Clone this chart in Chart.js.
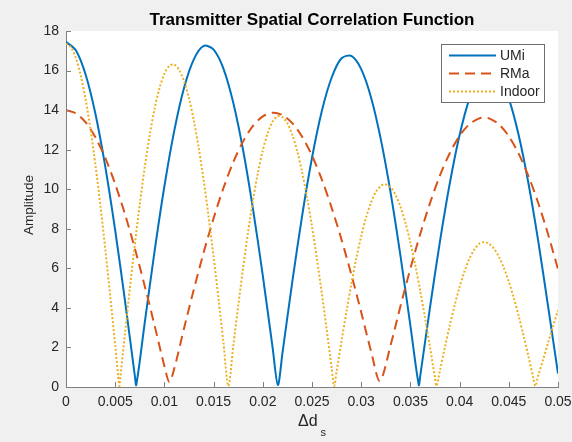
<!DOCTYPE html>
<html>
<head>
<meta charset="utf-8">
<title>Transmitter Spatial Correlation Function</title>
<script src="https://cdn.jsdelivr.net/npm/chart.js@4.4.1/dist/chart.umd.min.js"></script>
<style>
  html, body { margin: 0; padding: 0; background: #f0f0f0; }
  canvas { display: block; }
</style>
</head>
<body>
<canvas id="corrCanvas" width="572" height="442"></canvas>
<script>
// values
const xTickValues = [0, 0.005, 0.01, 0.015, 0.02, 0.025, 0.03, 0.035, 0.04, 0.045, 0.05];
const yTickValues = [0, 2, 4, 6, 8, 10, 12, 14, 16, 18];

const umiX = [0, 0.001, 0.002, 0.003, 0.004, 0.005, 0.006, 0.007, 0.00714,
  0.008, 0.009, 0.01, 0.011, 0.012, 0.013, 0.014,
  0.015, 0.016, 0.017, 0.018, 0.019, 0.02, 0.021, 0.02153,
  0.022, 0.023, 0.024, 0.025, 0.026, 0.027, 0.028,
  0.029, 0.03, 0.031, 0.032, 0.033, 0.034, 0.035, 0.03585,
  0.036, 0.037, 0.038, 0.039, 0.04, 0.041, 0.042, 0.043, 0.044, 0.045, 0.046, 0.047, 0.048, 0.049, 0.05];
const umiY = [17.45, 17.03, 15.79, 13.79, 11.12, 7.92, 4.34, 0.55, 0.1,
  3.24, 6.86, 10.15, 12.95, 15.13, 16.58, 17.25,
  17.06, 16.10, 14.37, 11.97, 9.01, 5.63, 1.98, 0.1,
  1.73, 5.33, 8.67, 11.59, 13.96, 15.65, 16.62,
  16.74, 16.07, 14.64, 12.51, 9.79, 6.60, 3.10, 0.1,
  0.56, 4.05, 7.35, 10.29, 12.74, 14.58, 15.71, 16.1, 15.71, 14.58, 12.74, 10.29, 7.35, 4.05, 0.68];

const rmaX = [0, 0.001, 0.002, 0.003, 0.004, 0.005, 0.006, 0.007, 0.008, 0.009, 0.01, 0.0105,
  0.011, 0.012, 0.013, 0.014, 0.015, 0.016, 0.017, 0.018, 0.019, 0.02, 0.021,
  0.022, 0.023, 0.024, 0.025, 0.026, 0.027, 0.028, 0.029, 0.03, 0.031, 0.0319,
  0.033, 0.034, 0.035, 0.036, 0.037, 0.038, 0.039, 0.04, 0.041, 0.042, 0.0425,
  0.043, 0.044, 0.045, 0.046, 0.047, 0.048, 0.049, 0.05];
const rmaY = [14.0, 13.84, 13.38, 12.61, 11.57, 10.26, 8.73, 7.0, 5.11, 3.12, 1.05, 0.25,
  0.93, 2.97, 4.95, 6.82, 8.53, 10.06, 11.37, 12.42, 13.20, 13.68, 13.87,
  13.75, 13.34, 12.65, 11.70, 10.49, 9.06, 7.45, 5.68, 3.78, 1.81, 0.3,
  2.14, 4.11, 5.99, 7.74, 9.31, 10.69, 11.82, 12.70, 13.29, 13.58, 13.62,
  13.58, 13.28, 12.68, 11.80, 10.66, 9.29, 7.71, 5.95];

const indoorX = [0, 0.0005, 0.001, 0.0015, 0.002, 0.0025, 0.003, 0.0035, 0.004, 0.0045, 0.005, 0.00542,
  0.0055, 0.006, 0.0065, 0.007, 0.0075, 0.008, 0.0085, 0.009, 0.0095, 0.01, 0.0105,
  0.011, 0.0115, 0.012, 0.0125, 0.013, 0.0135, 0.014, 0.0145, 0.015, 0.0155, 0.016, 0.0165,
  0.017, 0.0175, 0.018, 0.0185, 0.019, 0.0195, 0.02, 0.0205, 0.021, 0.0215,
  0.022, 0.0225, 0.023, 0.0235, 0.024, 0.0245, 0.025, 0.0255, 0.026, 0.0265, 0.027, 0.02725,
  0.0275, 0.028, 0.0285, 0.029, 0.0295, 0.03, 0.0305, 0.031, 0.0315, 0.032, 0.0324,
  0.033, 0.0335, 0.034, 0.0345, 0.035, 0.0355, 0.036, 0.0365, 0.037, 0.0375, 0.03765,
  0.038, 0.0385, 0.039, 0.0395, 0.04, 0.0405, 0.041, 0.0415, 0.042, 0.04249,
  0.043, 0.0435, 0.044, 0.0445, 0.045, 0.0455, 0.046, 0.0465, 0.047, 0.0475, 0.0477,
  0.048, 0.0485, 0.049, 0.0495, 0.05];
const indoorY = [17.36, 17.18, 16.64, 15.75, 14.53, 13.00, 11.20, 9.17, 6.94, 4.57, 2.11, 0.05,
  0.38, 2.73, 5.03, 7.22, 9.26, 11.11, 12.72, 14.06, 15.11, 15.84, 16.24,
  16.30, 16.03, 15.46, 14.60, 13.45, 12.05, 10.42, 8.58, 6.58, 4.46, 2.25, 0.05,
  2.07, 4.10, 6.03, 7.82, 9.43, 10.83, 11.97, 12.84, 13.42, 13.69,
  13.64, 13.33, 12.75, 11.92, 10.86, 9.58, 8.11, 6.48, 4.72, 2.87, 0.96, 0.05,
  0.78, 2.32, 3.81, 5.22, 6.50, 7.62, 8.58, 9.33, 9.87, 10.17, 10.25,
  10.09, 9.70, 9.10, 8.29, 7.30, 6.15, 4.86, 3.46, 1.98, 0.46, 0.05,
  0.83, 2.00, 3.11, 4.14, 5.06, 5.85, 6.49, 6.95, 7.24, 7.33,
  7.24, 6.99, 6.58, 6.02, 5.33, 4.51, 3.60, 2.59, 1.54, 0.44, 0.05,
  0.6, 1.4, 2.25, 3.08, 3.88];

const FONT = "'Liberation Sans', Arial, Helvetica, sans-serif";
const AXIS_GRAY = '#808080';
const TEXT_DARK = '#262626';

function toPoints(xs, ys) {
  return xs.map((x, i) => ({ x, y: ys[i] }));
}

// MATLAB-ish axes: white plot box, inward ticks, title, labels and boxed legend
const matlabAxes = {
  id: 'matlabAxes',
  beforeDraw(chart) {
    const { ctx, chartArea: a } = chart;
    ctx.save();
    ctx.fillStyle = '#ffffff';
    ctx.fillRect(a.left, a.top, a.right - a.left, a.bottom - a.top);
    ctx.restore();
  },
  afterDraw(chart) {
    const { ctx, chartArea: a, scales } = chart;
    ctx.save();

    // inward tick marks
    ctx.strokeStyle = AXIS_GRAY;
    ctx.lineWidth = 1;
    ctx.beginPath();
    scales.x.ticks.forEach(t => {
      const px = Math.round(scales.x.getPixelForValue(t.value)) + 0.5;
      ctx.moveTo(px, a.bottom);
      ctx.lineTo(px, a.bottom - 5);
    });
    scales.y.ticks.forEach(t => {
      const py = Math.round(scales.y.getPixelForValue(t.value)) + 0.5;
      ctx.moveTo(a.left, py);
      ctx.lineTo(a.left + 5, py);
    });
    ctx.stroke();

    // title
    ctx.fillStyle = '#000000';
    ctx.font = `bold 17px ${FONT}`;
    ctx.textAlign = 'center';
    ctx.textBaseline = 'alphabetic';
    ctx.fillText('Transmitter Spatial Correlation Function', (a.left + a.right) / 2, 25);

    // y label
    ctx.fillStyle = TEXT_DARK;
    ctx.save();
    ctx.translate(29, 205);
    ctx.rotate(-Math.PI / 2);
    ctx.font = `13.5px ${FONT}`;
    ctx.textAlign = 'center';
    ctx.textBaseline = 'middle';
    ctx.fillText('Amplitude', 0, 0);
    ctx.restore();

    // x label: Δd with subscript s
    ctx.font = `16px ${FONT}`;
    const main = 'Δd';
    const mw = ctx.measureText(main).width;
    ctx.font = `11px ${FONT}`;
    const sw = ctx.measureText('s').width;
    const startX = (a.left + a.right) / 2 - (mw + 3 + sw) / 2;
    ctx.textAlign = 'left';
    ctx.font = `16px ${FONT}`;
    ctx.fillText(main, startX, 426);
    ctx.font = `11px ${FONT}`;
    ctx.fillText('s', startX + mw + 3, 436);

    // legend box
    const lw = 103, lh = 58;
    const lx = a.right - 14 - lw, ly = a.top + 13;
    ctx.fillStyle = '#ffffff';
    ctx.fillRect(lx, ly, lw, lh);
    ctx.strokeStyle = '#6e6e6e';
    ctx.lineWidth = 1;
    ctx.strokeRect(lx + 0.5, ly + 0.5, lw, lh);

    ctx.font = `14px ${FONT}`;
    ctx.textBaseline = 'middle';
    chart.data.datasets.forEach((ds, i) => {
      const ry = ly + 11.5 + i * 18;
      ctx.strokeStyle = ds.borderColor;
      ctx.lineWidth = ds.borderWidth;
      ctx.setLineDash(ds.borderDash || []);
      ctx.beginPath();
      ctx.moveTo(lx + 8, ry);
      ctx.lineTo(lx + 55, ry);
      ctx.stroke();
      ctx.setLineDash([]);
      ctx.fillStyle = TEXT_DARK;
      ctx.fillText(ds.label, lx + 59, ry + 0.5);
    });

    ctx.restore();
  }
};

new Chart(document.getElementById('corrCanvas'), {
  type: 'line',
  data: {
    datasets: [
      { label: 'UMi', data: toPoints(umiX, umiY), borderColor: '#0072BD', borderWidth: 2, order: 3 },
      { label: 'RMa', data: toPoints(rmaX, rmaY), borderColor: '#D95319', borderWidth: 2, borderDash: [10, 6], order: 2 },
      { label: 'Indoor', data: toPoints(indoorX, indoorY), borderColor: '#EDB120', borderWidth: 2, borderDash: [2, 2], order: 1 }
    ]
  },
  options: {
    responsive: false,
    animation: false,
    devicePixelRatio: 1,
    layout: { padding: { top: 31, right: 14, left: 0, bottom: 0 } },
    elements: { point: { radius: 0 }, line: { tension: 0.3, fill: false } },
    plugins: { legend: { display: false }, tooltip: { enabled: false }, title: { display: false } },
    scales: {
      x: {
        type: 'linear', min: 0, max: 0.05,
        grid: { display: true, drawOnChartArea: false, drawTicks: false },
        border: { display: true, color: AXIS_GRAY, width: 1 },
        afterBuildTicks(scale) { scale.ticks = xTickValues.map(value => ({ value })); },
        afterFit(scale) {
          scale.height = 55;
          scale.paddingLeft = 0;
          scale.paddingRight = 0;
        },
        ticks: {
          autoSkip: false, maxRotation: 0, padding: 7, color: TEXT_DARK,
          font: { family: FONT, size: 14 },
          callback: v => String(+v.toFixed(3))
        }
      },
      y: {
        min: 0, max: 18,
        grid: { display: true, drawOnChartArea: false, drawTicks: false },
        border: { display: true, color: AXIS_GRAY, width: 1 },
        afterBuildTicks(scale) { scale.ticks = yTickValues.map(value => ({ value })); },
        afterFit(scale) {
          scale.width = 66;
          scale.paddingTop = 0;
          scale.paddingBottom = 0;
        },
        ticks: { padding: 7, color: TEXT_DARK, font: { family: FONT, size: 14 } }
      }
    }
  },
  plugins: [matlabAxes]
});
</script>
</body>
</html>
